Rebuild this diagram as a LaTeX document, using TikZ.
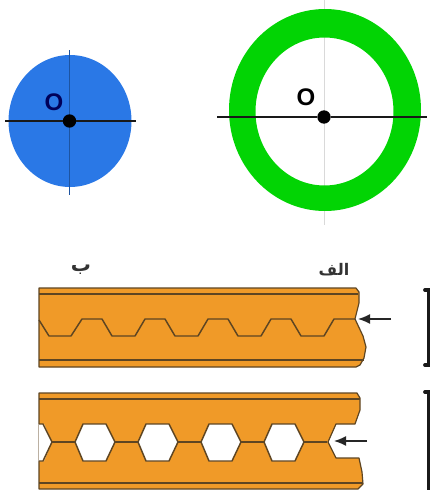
\documentclass[tikz,border=0pt]{standalone}
\usepackage{fontspec}
\setmainfont{Liberation Sans}
\newfontfamily\arabicfont[Script=Arabic]{DejaVu Sans}
\TeXXeTstate=1
\usepackage{tikz}
\usetikzlibrary{arrows.meta,positioning}
\definecolor{discblue}{HTML}{2A78E6}
\definecolor{ringgreen}{HTML}{02D404}
\definecolor{stripfill}{HTML}{F09A28}
\definecolor{stripline}{HTML}{5E4522}

\begin{document}
\begin{tikzpicture}[
  x=0.75pt,y=-0.75pt,
  axis/.style={line width=1.9pt,black!90},
  centre/.style={circle,fill=black,inner sep=0pt,minimum size=10pt},
  letter/.style={font=\fontsize{18}{18}\selectfont\bfseries,inner sep=0pt},
  label/.style={font=\arabicfont\fontsize{#1}{12}\selectfont\bfseries,inner sep=0pt,text=black!80},
  strip/.style={fill=stripfill,draw=stripline,line width=0.9pt,line join=round},
  seam/.style={draw=stripline,line width=1.1pt,line join=round},
  pointer/.style={line width=1.1pt,-{Latex[length=9pt,width=7.5pt]},black!85},
  bracket/.style={line width=2.8pt,black!90,line cap=round}
]
  \useasboundingbox (0,0) rectangle (432,490);

  % discs
  \fill[discblue] (70,121) ellipse [x radius=61.5,y radius=66];
  \draw[discblue!70!black,line width=0.6pt] (69.5,50) -- (69.5,195);
  \node[centre] (discO) at (69.5,121) {};
  \coordinate (discW) at (5,121);
  \coordinate (discE) at (136,121);
  \draw[axis] (discW) -- (discO) -- (discE);
  \node[letter,text=blue!35!black] (discL) at (54,102) {O};

  \draw[black!15,line width=0.6pt] (324,0) -- (324,225);
  \fill[ringgreen,even odd rule] (325,110) ellipse [x radius=96,y radius=101]
    (324.5,111.5) ellipse [x radius=69,y radius=74];
  \node[centre] (ringO) at (324,117) {};
  \coordinate (ringW) at (217,117);
  \coordinate (ringE) at (427,117);
  \draw[axis] (ringW) -- (ringO) -- (ringE);
  \node[letter] (ringL) at (306,97) {O};

  % labels
  \node[label=15] (labelB) at (81,270) {\beginR ب\endR};
  \node[label=12] (labelA) at (334,270) {\beginR الف\endR};

  % upper strip
  \path[strip] (39,288) -- (356,288) -- (359,292) -- (359,303) -- (355,319)
    -- (363,336) -- (366,347) -- (364,358) -- (360,365) -- (356,367) -- (39,367) -- cycle;
  \draw[seam] (39,294) -- (358,294);
  \draw[seam] (39,360) -- (364,360);
  \draw[seam] (39,320) -- (49,336) -- (71,336)
    \foreach \xa in {82,145,208,271} {
      -- (\xa,319) -- (\xa+20,319) -- (\xa+30,336) -- (\xa+53,336)
    } -- (334,319) -- (355,319);
  \coordinate (tipA) at (358,319);
  \coordinate (tailA) at (391,319);
  \draw[pointer] (tailA) -- (tipA);

  % lower strip
  \path[strip] (39,393) -- (357,393) -- (360,398) -- (360,410) -- (355,424) -- (336,424)
    -- (328,442) -- (336,458) -- (359,458) -- (362,472) -- (363,484) -- (358,489) -- (39,489) -- cycle;
  \draw[seam] (39,399) -- (360,399);
  \draw[seam] (39,483) -- (363,483);
  \foreach \xa in {75,138,201,264} {
    \draw[seam,fill=white] (\xa,442) -- (\xa+8,424) -- (\xa+31,424) -- (\xa+40,442)
      -- (\xa+31,461) -- (\xa+8,461) -- cycle;
    \draw[seam] (\xa+40,442) -- (\xa+63,442);
  }
  \fill[white] (38.5,424) -- (44,424) -- (52,442) -- (44,461) -- (38.5,461) -- cycle;
  \draw[seam] (39,424) -- (43,424) -- (52,442) -- (43,461) -- (39,461);
  \draw[seam] (52,442) -- (75,442);
  \coordinate (tipB) at (334,441);
  \coordinate (tailB) at (367,441);
  \draw[pointer] (tailB) -- (tipB);

  % brackets
  \draw[bracket] (425,290) -- (428.5,290) -- (428.5,365) -- (425,365);
  \draw[bracket] (425,392) -- (428.5,392) -- (428.5,492);
\end{tikzpicture}
\end{document}
